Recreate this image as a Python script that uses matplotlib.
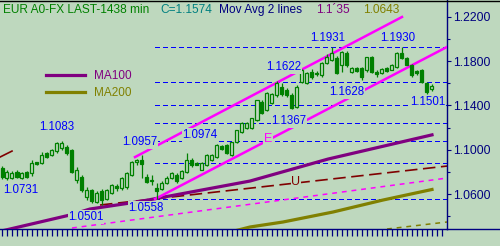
import matplotlib
matplotlib.use("Agg")
import matplotlib.pyplot as plt
from matplotlib.lines import Line2D

plt.rcParams["font.family"] = ["Liberation Sans", "DejaVu Sans"]
plt.rcParams["lines.scale_dashes"] = False

# ==========================
# Data
# ==========================

opens = [
    1.0836, 1.0745, 1.0746, 1.0800, 1.0748, 1.0798, 1.0790, 1.0888, 1.0880, 1.0970,
    1.0953, 1.0990, 1.1017, 1.1026, 1.1000, 1.0728, 1.0755, 1.0575, 1.0640, 1.0530,
    1.0630, 1.0560, 1.0612, 1.0675, 1.0656, 1.0665, 1.0773, 1.0890, 1.0905, 1.0755,
    1.0720, 1.0660, 1.0650, 1.0705, 1.0745, 1.0773, 1.0750, 1.0800, 1.0905, 1.0880,
    1.0820, 1.0863, 1.0910, 1.0935, 1.1035, 1.1044, 1.0953, 1.1071, 1.1161, 1.1200,
    1.1197, 1.1269, 1.1431, 1.1359, 1.1422, 1.1494, 1.1566, 1.1539, 1.1494, 1.1386,
    1.1611, 1.1602, 1.1700, 1.1690, 1.1674, 1.1782, 1.1810, 1.1827, 1.1764, 1.1873,
    1.1701, 1.1740, 1.1737, 1.1719, 1.1837, 1.1700, 1.1692, 1.1735, 1.1720, 1.1746,
    1.1873, 1.1827, 1.1764, 1.1710, 1.1719, 1.1602, 1.1545,
]
highs = [
    1.0854, 1.0818, 1.0810, 1.0815, 1.0805, 1.0812, 1.0908, 1.0895, 1.0980, 1.0985,
    1.1010, 1.1071, 1.1083, 1.1044, 1.1010, 1.0845, 1.0775, 1.0665, 1.0650, 1.0630,
    1.0645, 1.0650, 1.0690, 1.0695, 1.0755, 1.0800, 1.0900, 1.0920, 1.0957, 1.0780,
    1.0775, 1.0700, 1.0715, 1.0760, 1.0800, 1.0790, 1.0820, 1.0974, 1.0930, 1.0890,
    1.0890, 1.0960, 1.0960, 1.1050, 1.1045, 1.1050, 1.1075, 1.1180, 1.1250, 1.1250,
    1.1290, 1.1450, 1.1445, 1.1520, 1.1515, 1.1622, 1.1600, 1.1560, 1.1510, 1.1580,
    1.1725, 1.1700, 1.1725, 1.1710, 1.1790, 1.1860, 1.1931, 1.1850, 1.1890, 1.1895,
    1.1746, 1.1750, 1.1745, 1.1840, 1.1845, 1.1719, 1.1740, 1.1745, 1.1770, 1.1880,
    1.1930, 1.1840, 1.1770, 1.1719, 1.1725, 1.1610, 1.1590,
]
lows = [
    1.0737, 1.0731, 1.0735, 1.0745, 1.0740, 1.0745, 1.0765, 1.0868, 1.0872, 1.0925,
    1.0945, 1.0972, 1.1000, 1.0953, 1.0790, 1.0700, 1.0620, 1.0548, 1.0525, 1.0520,
    1.0501, 1.0545, 1.0600, 1.0630, 1.0640, 1.0650, 1.0760, 1.0860, 1.0746, 1.0705,
    1.0683, 1.0558, 1.0640, 1.0690, 1.0735, 1.0700, 1.0740, 1.0790, 1.0850, 1.0860,
    1.0815, 1.0855, 1.0900, 1.0925, 1.0995, 1.0960, 1.0945, 1.1060, 1.1150, 1.1190,
    1.1190, 1.1260, 1.1320, 1.1350, 1.1410, 1.1480, 1.1485, 1.1480, 1.1367, 1.1375,
    1.1600, 1.1590, 1.1640, 1.1665, 1.1660, 1.1770, 1.1800, 1.1680, 1.1700, 1.1750,
    1.1690, 1.1700, 1.1628, 1.1700, 1.1690, 1.1660, 1.1680, 1.1700, 1.1715, 1.1740,
    1.1820, 1.1760, 1.1660, 1.1670, 1.1600, 1.1501, 1.1530,
]
closes = [
    1.0755, 1.0800, 1.0795, 1.0757, 1.0790, 1.0758, 1.0880, 1.0875, 1.0953, 1.0935,
    1.0999, 1.1062, 1.1062, 1.0972, 1.0800, 1.0818, 1.0638, 1.0638, 1.0535, 1.0610,
    1.0545, 1.0635, 1.0680, 1.0660, 1.0746, 1.0791, 1.0890, 1.0905, 1.0870, 1.0712,
    1.0730, 1.0630, 1.0705, 1.0750, 1.0790, 1.0715, 1.0810, 1.0905, 1.0865, 1.0865,
    1.0880, 1.0950, 1.0950, 1.1044, 1.1005, 1.0972, 1.1071, 1.1179, 1.1242, 1.1240,
    1.1287, 1.1449, 1.1332, 1.1512, 1.1505, 1.1602, 1.1500, 1.1495, 1.1380, 1.1566,
    1.1719, 1.1692, 1.1655, 1.1680, 1.1782, 1.1837, 1.1870, 1.1692, 1.1882, 1.1764,
    1.1737, 1.1710, 1.1656, 1.1837, 1.1701, 1.1680, 1.1730, 1.1712, 1.1764, 1.1873,
    1.1827, 1.1764, 1.1674, 1.1690, 1.1611, 1.1521, 1.1574,
]

# Moving averages (bar index, value)
ma100_x = [0, 13.6, 17.6, 25.6, 29.2, 49.6, 65.2, 86]
ma100_y = [1.0270, 1.0413, 1.0467, 1.0521, 1.0548, 1.0719, 1.0917, 1.1135]
ma200_x = [47.0, 49.6, 56.2, 66.2, 76.2, 86]
ma200_y = [1.0275, 1.0305, 1.0350, 1.0440, 1.0548, 1.0643]

# Trend channel "E" (magenta)
upper_e_x = [26.6, 80.0]
upper_e_y = [1.0935, 1.2197]
lower_e_x = [30.6, 89.0]
lower_e_y = [1.0557, 1.1927]

# Channel "U" and other trend lines
maroon_x = [19.6, 89.0]
maroon_y = [1.0503, 1.0854]
maroon_left_x = [-0.4, 2.0]
maroon_left_y = [1.0935, 1.0989]
pink_dash_x = [14.0, 89.0]
pink_dash_y = [1.0296, 1.0746]
olive_dash_x = [77.0, 89.0]
olive_dash_y = [1.0287, 1.0350]

# Fibonacci levels between 1.0558 and 1.1931
fib_start = 30.6
fib_levels = [1.1931, 1.1607, 1.1406, 1.1245, 1.1083, 1.0882, 1.0558]

price_labels = ["1.1083", "1.0731", "1.0957", "1.0501", "1.0558", "1.0974",
                "1.1367", "1.1622", "1.1628", "1.1931", "1.1930", "1.1501"]
label_x = [11.0, 3.8, 27.6, 16.8, 28.8, 39.6, 57.4, 56.4, 69.0, 65.2, 79.2, 85.2]
label_y = [1.1206, 1.0638, 1.1071, 1.0395, 1.0476, 1.1134,
           1.1260, 1.1746, 1.1521, 1.2008, 1.2008, 1.1431]

y_major = [1.06, 1.10, 1.14, 1.18, 1.22]
y_minor = [1.04, 1.08, 1.12, 1.16, 1.20]

# ========
# Styling
# ========

BG = "#BED8BE"
NAVY = "#000080"
GREEN = "#008000"
PURPLE = "#800080"
OLIVE = "#808000"
MAGENTA = "#FF00FF"
MAROON = "#800000"
BLUE = "#0000FF"


def main():

    fig = plt.figure(figsize=(5.0, 2.46), dpi=100, facecolor=BG)
    ax = fig.add_axes([0, 17 / 246, 447 / 500, 229 / 246], facecolor=BG)

    # Fibonacci retracement lines (crisp 1px blue dashes)
    for level in fib_levels:
        ax.plot([fib_start, 89.0], [level, level], color=BLUE, lw=0.75,
                dashes=(3.0, 2.2), antialiased=False, zorder=1)

    # Other trend lines
    ax.plot(pink_dash_x, pink_dash_y, color=MAGENTA, lw=1.1, dashes=(3.5, 3.5), zorder=2)
    ax.plot(maroon_x, maroon_y, color=MAROON, lw=1.2, dashes=(9, 4), zorder=2)
    ax.plot(maroon_left_x, maroon_left_y, color=MAROON, lw=1.2, zorder=2)
    ax.plot(olive_dash_x, olive_dash_y, color=OLIVE, lw=1.1, dashes=(3.5, 3.5), zorder=2)

    # Moving averages
    ax.plot(ma100_x, ma100_y, color=PURPLE, lw=2.3, zorder=3, label="MA100")
    ax.plot(ma200_x, ma200_y, color=OLIVE, lw=2.3, zorder=3, label="MA200")

    # Channel E
    ax.plot(upper_e_x, upper_e_y, color=MAGENTA, lw=1.8, zorder=3)
    ax.plot(lower_e_x, lower_e_y, color=MAGENTA, lw=1.8, zorder=3)

    # Candles
    idx = list(range(len(closes)))
    ax.vlines(idx, lows, highs, color=GREEN, lw=0.9, zorder=4)
    bottoms = [min(o, c) for o, c in zip(opens, closes)]
    heights = [max(abs(c - o), 0.0003) for o, c in zip(opens, closes)]
    faces = [BG if c >= o else GREEN for o, c in zip(opens, closes)]
    ax.bar(idx, heights, bottom=bottoms, width=0.6, color=faces,
           edgecolor=GREEN, linewidth=0.9, zorder=5)

    # Price labels with opaque background
    box = dict(facecolor=BG, edgecolor="none", pad=0.5)
    for text, x, y in zip(price_labels, label_x, label_y):
        ax.text(x, y, text, color=BLUE, fontsize=8.3, ha="center", va="center",
                bbox=box, zorder=6)

    ax.text(53.2, 1.1098, "E", color=MAGENTA, fontsize=9, ha="center",
            va="center", bbox=box, zorder=6)
    ax.text(58.8, 1.0710, "U", color=MAROON, fontsize=9, ha="center",
            va="center", bbox=box, zorder=6)

    # Axes
    ax.set_xlim(-0.4, 89.0)
    ax.set_ylim(1.0287, 1.2350)

    for side in ["left", "top"]:
        ax.spines[side].set_visible(False)
    ax.spines["right"].set_color(NAVY)
    ax.spines["bottom"].set_color(NAVY)
    ax.spines["right"].set_linewidth(1.0)
    ax.spines["bottom"].set_linewidth(1.0)

    ax.yaxis.tick_right()
    ax.set_yticks(y_major)
    ax.set_yticklabels([f"{v:.4f}" for v in y_major])
    ax.set_yticks(y_minor, minor=True)
    ax.tick_params(axis="y", which="major", direction="out", length=3.2,
                   width=0.8, color=NAVY, labelcolor=NAVY, labelsize=8.7, pad=1.2)
    ax.tick_params(axis="y", which="minor", direction="out", length=2.3,
                   width=0.8, color=NAVY)

    ax.set_xticks(idx + [87, 88])
    ax.tick_params(axis="x", direction="out", length=5.0, width=0.9,
                   color=NAVY, labelbottom=False)

    # Legend
    ax.legend(loc="upper left", bbox_to_anchor=(40 / 447, 1 - 64 / 229),
              frameon=False, fontsize=8.5, handlelength=3.3, handletextpad=0.8,
              labelspacing=0.45, labelcolor="linecolor", borderpad=0)

    # Bottom line running under the price scale, thin top border
    fig.add_artist(Line2D([447 / 500, 1.0], [17 / 246, 17 / 246], color=NAVY, lw=1.0))
    fig.add_artist(Line2D([0, 1.0], [1 - 0.5 / 246, 1 - 0.5 / 246], color="black", lw=1.0))

    # Header texts
    top = 1 - 10 / 246
    fig.text(3 / 500, top, "EUR A0-FX LAST-1438 min", color=GREEN, fontsize=8.6, va="center")
    fig.text(160 / 500, top, "C=1.1574", color="#008080", fontsize=8.6, va="center")
    fig.text(219 / 500, top, "Mov Avg 2 lines", color=NAVY, fontsize=8.6, va="center")
    fig.text(316 / 500, top, "1.1\u00b435", color=PURPLE, fontsize=8.6, va="center")
    fig.text(363 / 500, top, "1.0643", color=OLIVE, fontsize=8.6, va="center")

    fig.savefig("out.png", dpi=100, facecolor=BG)


if __name__ == "__main__":
    main()
